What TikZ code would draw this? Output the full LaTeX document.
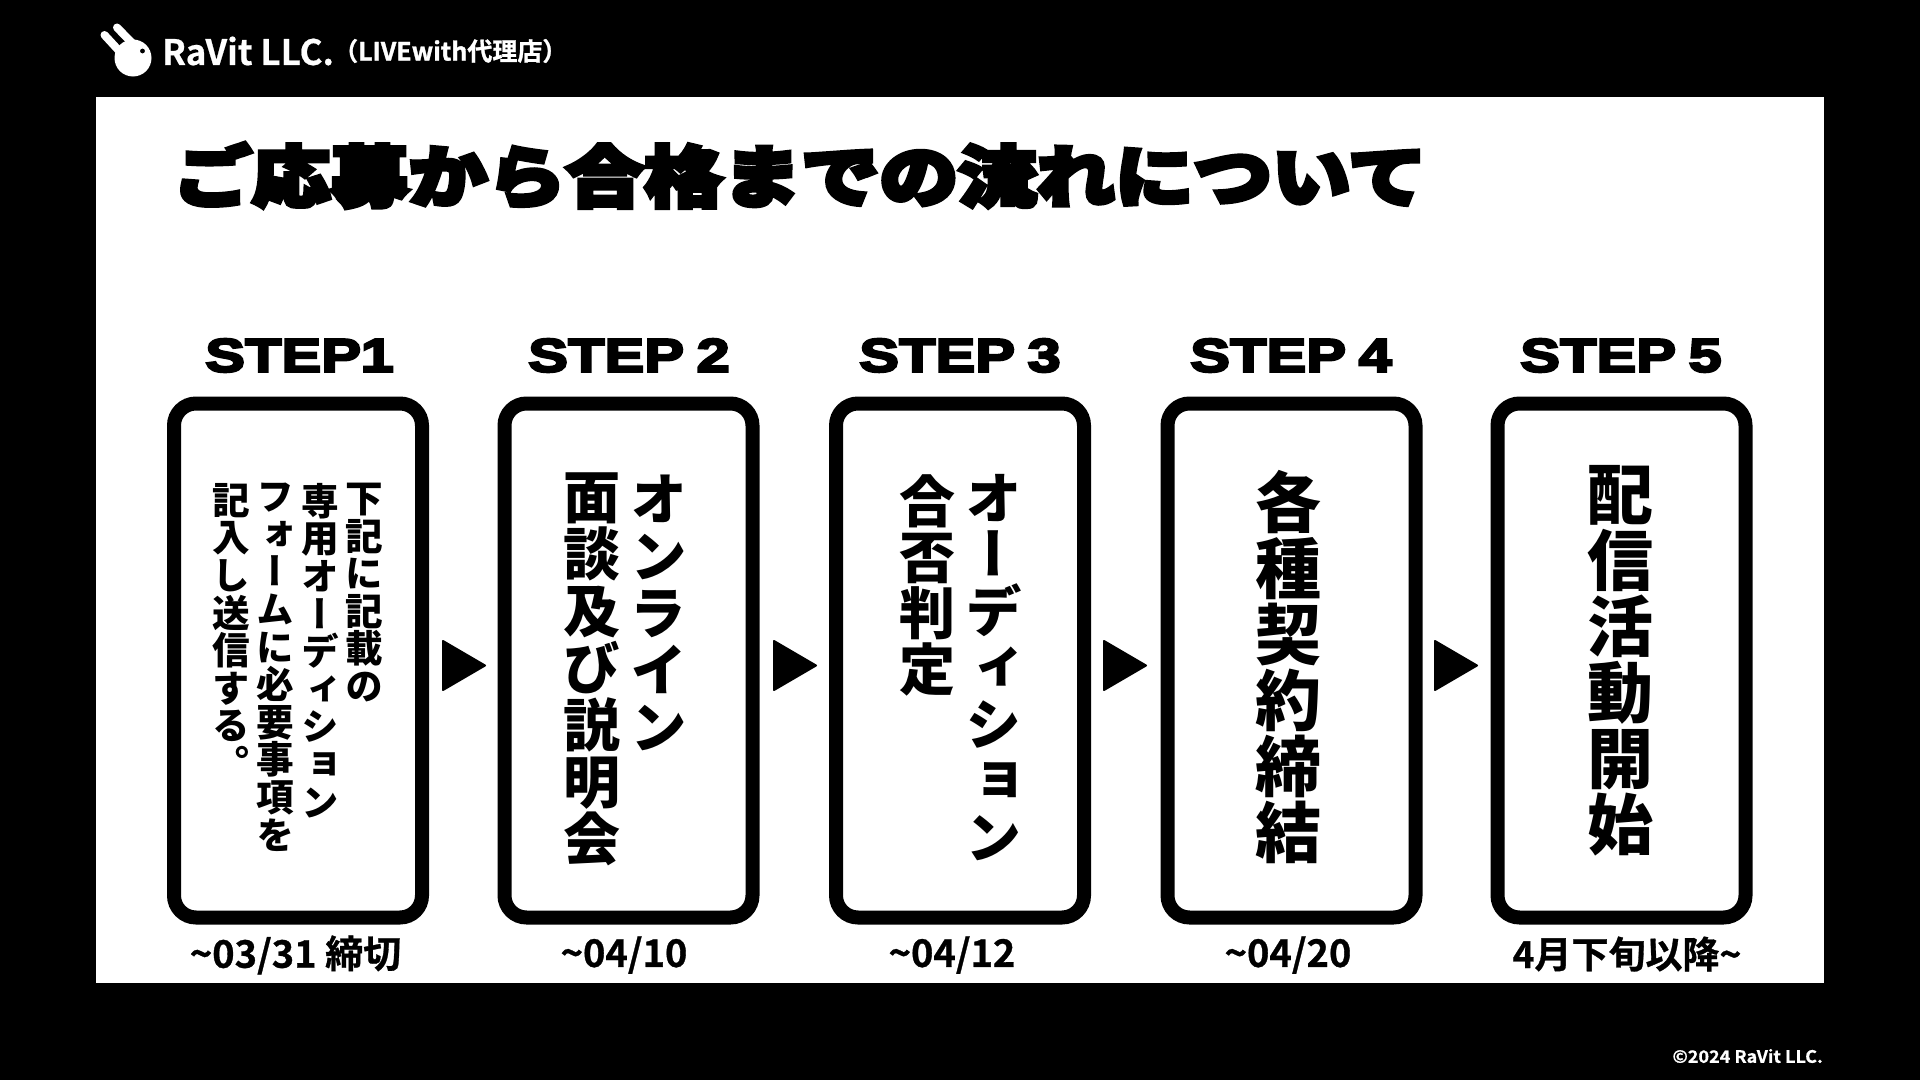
\documentclass[tikz,border=0pt]{standalone}
\usepackage{fontspec}
\newfontfamily\jpvert{Noto Sans CJK JP Black}[RawFeature=+vert]
\newfontfamily\jpdate{Noto Sans CJK JP Bold}[FakeBold=0.8]
\newfontfamily\jptitle{Noto Sans CJK JP Black}[FakeBold=7,FakeStretch=1.18]
\newfontfamily\steplabel{Liberation Sans Bold}[FakeBold=5,FakeStretch=1.27,WordSpace=0.75]
\newfontfamily\logofont{Noto Sans CJK JP Bold}[FakeBold=0.6]
\newfontfamily\agentfont{Noto Sans CJK JP Bold}[FakeBold=1.2]
\newfontfamily\footfont{Noto Sans CJK JP Bold}[FakeBold=0.6,FakeStretch=1.06]
\newlength{\px}\setlength{\px}{0.05cm}
\newcommand{\pxfont}[1]{\fontsize{#1\px}{#1\px}\selectfont}
\tikzset{
  x=0.05cm,y=-0.05cm,
  stepbox/.style={draw=black,line width=14\px,rounded corners=22\px,fill=white,minimum width=248\px,minimum height=514\px,inner sep=0pt},
  steplab/.style={font=\steplabel\pxfont{47},inner sep=0pt},
  datelab/.style={font=\jpdate\pxfont{38},inner sep=0pt},
  vcol/.style={inner sep=0pt,align=center,anchor=north,font=\jpvert\pxfont{#1}},
  flowtip/.style={fill=black,draw=black,line width=2\px,line join=round},
}
\begin{document}
\begin{tikzpicture}
\useasboundingbox (0,0) rectangle (1920,1080);
\fill[black] (0,0) rectangle (1920,1080);
\fill[white] (96,97) rectangle (1824,983);
% logo
\draw[white,line width=8\px,line cap=round] (104.5,35) -- (122,54);
\draw[white,line width=8\px,line cap=round] (117,27.5) -- (136,47);
\fill[white] (133,58) circle (18.5);
\fill[black] (142.5,51) circle (2.4);
\node[anchor=west,inner sep=0pt,text=white,font=\logofont\pxfont{35}] (brand) at (162,51) {RaVit LLC.};
\node[anchor=west,inner sep=0pt,text=white,font=\agentfont\pxfont{25}] (agent) at (333,51) {（LIVEwith代理店）};
\node[inner sep=0pt,text=white,font=\footfont\pxfont{17},anchor=east] (copy) at (1823,1056) {©2024 RaVit LLC.};
% title
\node[inner sep=0pt,font=\jptitle\pxfont{66.5}] (title) at (800,175.5) {ご応募から合格までの流れについて};
% boxes
\node[stepbox] (b1) at (298,660.5) {};
\node[stepbox] (b2) at (628.5,660.5) {};
\node[stepbox] (b3) at (960,660.5) {};
\node[stepbox] (b4) at (1291.5,660.5) {};
\node[stepbox] (b5) at (1621.5,660.5) {};
% step labels
\node[steplab] (s1) at (299.5,355.5) {STEP \kern-13\px 1};
\node[steplab] (s2) at (629,355.5) {STEP 2};
\node[steplab] (s3) at (960,355.5) {STEP 3};
\node[steplab] (s4) at (1291,355.5) {STEP 4};
\node[steplab] (s5) at (1621,355.5) {STEP 5};
% arrows
\fill[flowtip] (443,641) -- (485,665.5) -- (443,690) -- cycle;
\fill[flowtip] (774,641) -- (816,665.5) -- (774,690) -- cycle;
\fill[flowtip] (1104,641) -- (1146,665.5) -- (1104,690) -- cycle;
\fill[flowtip] (1435,641) -- (1477,665.5) -- (1435,690) -- cycle;
% step 1
\node[vcol=37.6] (c11) at (364,483) {下\\記\\に\\記\\載\\の};
\node[vcol=37.6] (c12) at (320,483) {専\\用\\オ\\ー\\デ\\ィ\\シ\\ョ\\ン};
\node[vcol=37.6] (c13) at (275,483) {フ\\ォ\\ー\\ム\\に\\必\\要\\事\\項\\を};
\node[vcol=37.6] (c14) at (231,483) {記\\入\\し\\送\\信\\す\\る\\。};
% step 2
\node[vcol=57] (c21) at (659,475) {オ\\ン\\ラ\\イ\\ン};
\node[vcol=57] (c22) at (592,473) {面\\談\\及\\び\\説\\明\\会};
% step 3
\node[vcol=56.5] (c31) at (994,474) {オ\\ー\\デ\\ィ\\シ\\ョ\\ン};
\node[vcol=56] (c32) at (927,475) {合\\否\\判\\定};
% step 4, 5
\node[vcol=66] (c41) at (1288,470) {各\\種\\契\\約\\締\\結};
\node[vcol=66] (c51) at (1620,465) {配\\信\\活\\動\\開\\始};
% dates
\node[datelab] (d1) at (295.5,955) {\char"007E 03/31 締切};
\node[datelab] (d2) at (624,955) {\char"007E 04/10};
\node[datelab] (d3) at (952,955) {\char"007E 04/12};
\node[datelab] (d4) at (1288,955) {\char"007E 04/20};
\node[datelab,font=\jpdate\pxfont{37}] (d5) at (1627,954) {4月下旬以降\char"007E};
\end{tikzpicture}
\end{document}
